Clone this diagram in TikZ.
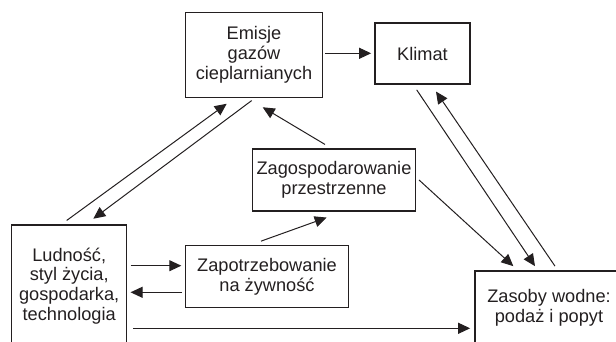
\documentclass[tikz,border=0pt]{standalone}
\usepackage{fontspec}
\setmainfont{Liberation Sans}
\usetikzlibrary{arrows.meta,calc}
\definecolor{ink}{RGB}{35,31,32}
\begin{document}
\begin{tikzpicture}[x=1pt,y=-1pt,
  box/.style={draw=ink,text=ink,line width=1.1pt,inner sep=0pt,align=center,
    font=\fontsize{18.2}{19.8}\selectfont},
  arr/.style={draw=ink,line width=1pt,-{Triangle[length=12pt,width=11pt]}}]
\useasboundingbox (0,0) rectangle (616,342);
\node[box,minimum width=137.7pt,minimum height=85pt] (emis) at (254,54.7) {Emisje\\gazów\\cieplarnianych};
\node[box,minimum width=95pt,minimum height=61pt] (klim) at (422.5,53.5) {Klimat};
\node[box,minimum width=163.4pt,minimum height=62pt] (zag) at (334,180) {Zagospodarowanie\\przestrzenne};
\node[box,minimum width=162.3pt,minimum height=61.6pt] (zap) at (267,276.5) {Zapotrzebowanie\\na żywność};
\node[box,minimum width=115pt,minimum height=122pt] (lud) at (69.2,286) {Ludność,\\styl życia,\\gospodarka,\\technologia};
\node[box,minimum width=148pt,minimum height=74pt] (zas) at (549,308) {Zasoby wodne:\\podaż i popyt};
% connectors
\draw[arr] ($(emis.east)+(2,-1.4)$) -- ($(klim.west)+(-3.3,-0.2)$);
\draw[arr] ($(lud.north)+(-2.5,-4)$) -- ($(emis.south)+(-27.3,6)$);
\draw[arr] ($(emis.south)+(-2.3,2.8)$) -- ($(lud.north)+(24.1,-5.7)$);
\draw[arr] ($(zag.north)+(-9,-4)$) -- ($(emis.south)+(8.7,9.5)$);
\draw[arr] ($(zap.north)+(-6,-4)$) -- ($(zag.south)+(-7.3,6)$);
\draw[arr] ($(lud.east)+(3.3,-20.3)$) -- ($(zap.west)+(-4,-10.8)$);
\draw[arr] ($(zap.west)+(-3.2,15.8)$) -- ($(lud.east)+(3.3,6.3)$);
\draw[arr] ($(lud.east)+(6,42.3)$) -- ($(zas.west)+(-4.3,20.3)$);
\draw[arr] ($(zag.east)+(2.8,0)$) -- ($(zas.north)+(-35.7,-4.3)$);
\draw[arr] ($(klim.south)+(-5.8,5.3)$) -- ($(zas.north)+(-14,-4.3)$);
\draw[arr] ($(zas.north)+(6,-4.3)$) -- ($(klim.south)+(13.5,7)$);
\end{tikzpicture}
\end{document}
